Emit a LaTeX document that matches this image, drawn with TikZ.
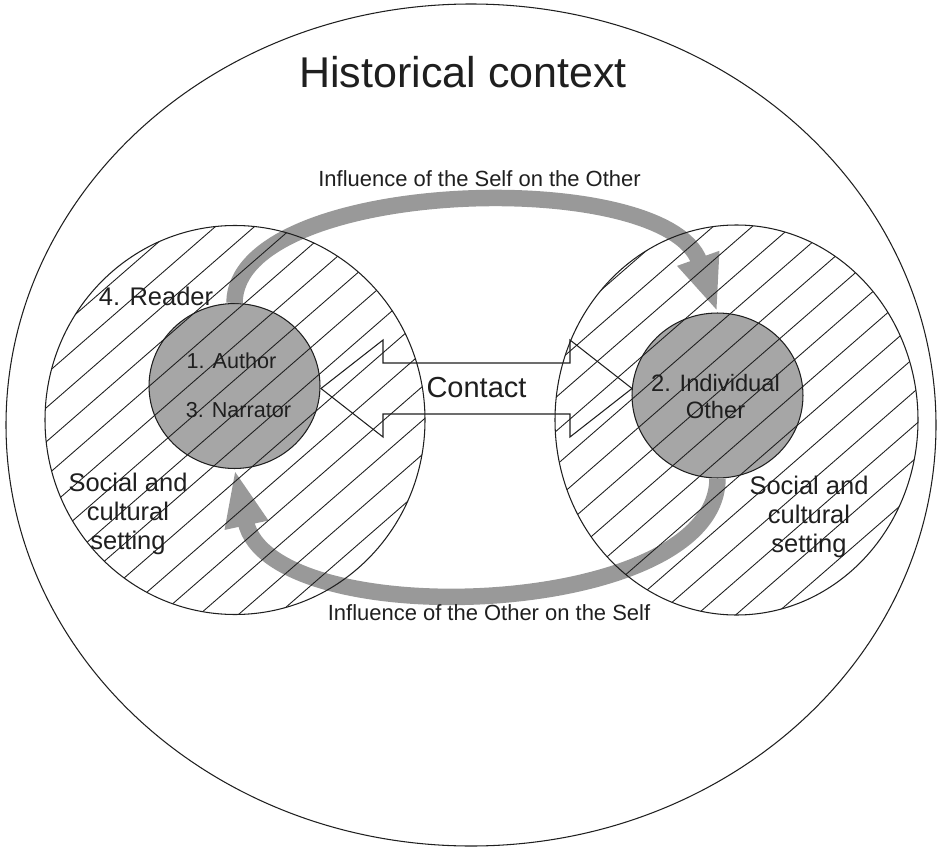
\documentclass[tikz,border=0pt]{standalone}
\usepackage{fontspec}
\setmainfont{Liberation Sans}
\usetikzlibrary{arrows.meta,shapes.geometric}
\definecolor{bandgray}{gray}{0.6}
\definecolor{discgray}{gray}{0.65}
\definecolor{inkgray}{gray}{0.12}

\begin{document}
\begin{tikzpicture}[x=0.02cm,y=-0.02cm,
		outline/.style={draw=inkgray,line width=0.6pt},
		hatch/.style={draw=inkgray,line width=0.5pt},
		disc/.style={ellipse,fill=discgray,draw=inkgray,line width=0.6pt,minimum width=3.42cm,minimum height=3.3cm,inner sep=0pt},
		influence/.style={draw=bandgray,line width=0.33cm,-{Triangle[length=1.15cm,width=0.8cm]}},
		lbl/.style={text=inkgray,inner sep=0pt,align=center}]
			\useasboundingbox (0,0) rectangle (940,848);
			\draw[outline] (471,425) ellipse [x radius=465,y radius=421];
			\node[disc] (author) at (234.5,386) {};
			\node[disc] (other) at (717.5,395.5) {};
			\draw[influence] (author.north) .. controls (235,178) and (665,165) .. (other.north);
			\draw[influence] (other.south) .. controls (717,620) and (270,635) .. (author.south);
			\begin{scope}
				\clip (235,420) ellipse [x radius=190,y radius=194.5];
				\foreach \c in {210,244,...,1000}
					\draw[hatch] (0,\c) -- (940,\c-817.8);
			\end{scope}
			\begin{scope}
				\clip (736.5,420) ellipse [x radius=181.5,y radius=195];
				\foreach \c in {643,677,...,1425}
					\draw[hatch] (0,\c) -- (940,\c-817.8);
			\end{scope}
			\draw[outline] (235,420) ellipse [x radius=190,y radius=194.5];
			\draw[outline] (736.5,420) ellipse [x radius=181.5,y radius=195];
			\coordinate (contactL) at (321,388.5);
			\draw[outline] (contactL) -- ++(62,-48.5) -- ++(0,23) -- ++(187,0) -- ++(0,-23) -- ++(62,48.5)
				-- ++(-62,48.5) -- ++(0,-23) -- ++(-187,0) -- ++(0,23) -- cycle;
			\draw (463,72) node[lbl,font=\fontsize{24.5}{29}\selectfont] (hist) {Historical context};
			\draw (479.5,178.5) node[lbl,font=\fontsize{12.5}{15}\selectfont] (selfon) {Influence of the Self on the Other};
			\draw (489,612.5) node[lbl,font=\fontsize{12.5}{15}\selectfont] (otheron) {Influence of the Other on the Self};
			\draw (476.5,387.5) node[lbl,font=\fontsize{16.5}{20}\selectfont] (contact) {Contact};
			\draw (156,296) node[lbl,font=\fontsize{14.5}{17}\selectfont] (reader) {4. Reader};
			\draw (231.5,361) node[lbl,font=\fontsize{12.3}{15}\selectfont] (authorlbl) {1. Author};
			\draw (238.5,410.5) node[lbl,font=\fontsize{12.3}{15}\selectfont] (narrator) {3. Narrator};
			\draw (715.5,396.5) node[lbl,font=\fontsize{13.5}{15.4}\selectfont] (otherlbl) {2. Individual\\Other};
			\draw (128,514) node[lbl,font=\fontsize{14.5}{16.4}\selectfont] (settingL) {Social and\\cultural\\setting};
			\draw (809,517) node[lbl,font=\fontsize{14.5}{16.4}\selectfont] (settingR) {Social and\\cultural\\setting};
		\end{tikzpicture}
\end{document}
